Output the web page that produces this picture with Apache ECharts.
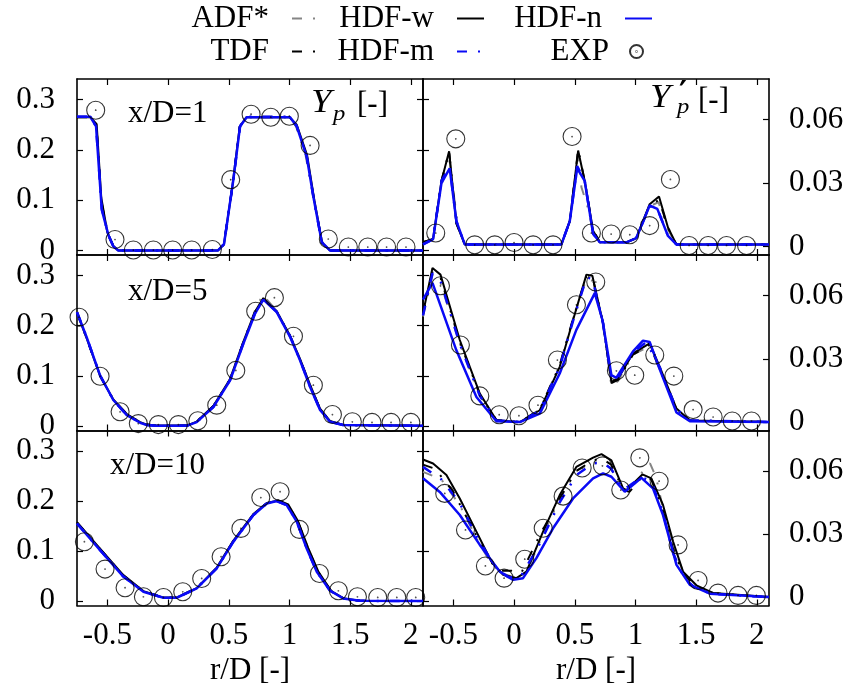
<!DOCTYPE html>
<html>
<head>
<meta charset="utf-8">
<script src="https://cdn.jsdelivr.net/npm/echarts@6/dist/echarts.min.js"></script>
<style>
  html, body { margin: 0; padding: 0; background: #fff; }
  #chart { width: 851px; height: 688px; }
</style>
</head>
<body>
<div id="chart"></div>
<script>
// ---- axis ticks ----
const xTicks = [-0.5, 0, 0.5, 1, 1.5, 2];
const yTicksMean = [0, 0.1, 0.2, 0.3];
const yTicksRms = [0, 0.03, 0.06];
const stations = ['x/D=1', 'x/D=5', 'x/D=10'];
const modelNames = ['ADF*', 'TDF', 'HDF-w', 'HDF-m', 'HDF-n'];
const expName = 'EXP';

// ---- mean Y_p, x/D = 1 ----
const yp1_adf  = [[-0.75,0.266],[-0.64,0.266],[-0.59,0.249],[-0.545,0.09],[-0.49,0.031],[-0.45,0.008],[-0.41,0.0],[0.41,0.0],[0.46,0.013],[0.535,0.135],[0.592,0.247],[0.648,0.266],[1.0,0.266],[1.055,0.246],[1.13,0.193],[1.195,0.11],[1.266,0.018],[1.335,0.0],[2.1,0.0]];
const yp1_tdf  = [[-0.75,0.265],[-0.64,0.265],[-0.59,0.25],[-0.55,0.1],[-0.5,0.034],[-0.45,0.009],[-0.41,0.0],[0.41,0.0],[0.46,0.012],[0.532,0.13],[0.59,0.246],[0.646,0.265],[1.0,0.265],[1.058,0.248],[1.14,0.19],[1.2,0.104],[1.268,0.016],[1.335,0.0],[2.1,0.0]];
const yp1_hdfw = [[-0.75,0.265],[-0.64,0.265],[-0.588,0.251],[-0.55,0.105],[-0.5,0.036],[-0.45,0.009],[-0.41,0.0],[0.41,0.0],[0.46,0.012],[0.53,0.128],[0.59,0.246],[0.645,0.265],[1.0,0.265],[1.06,0.25],[1.145,0.19],[1.205,0.1],[1.27,0.015],[1.335,0.0],[2.1,0.0]];
const yp1_hdfm = [[-0.75,0.266],[-0.64,0.266],[-0.593,0.247],[-0.546,0.083],[-0.49,0.03],[-0.45,0.008],[-0.41,0.0],[0.41,0.0],[0.461,0.013],[0.538,0.14],[0.593,0.247],[0.648,0.266],[1.005,0.266],[1.06,0.247],[1.142,0.187],[1.197,0.107],[1.266,0.017],[1.335,0.0],[2.1,0.0]];
const yp1_hdfn = [[-0.75,0.266],[-0.64,0.266],[-0.593,0.247],[-0.546,0.081],[-0.49,0.03],[-0.45,0.008],[-0.41,0.0],[0.41,0.0],[0.461,0.013],[0.538,0.141],[0.593,0.247],[0.648,0.265],[1.005,0.265],[1.06,0.247],[1.142,0.187],[1.197,0.107],[1.266,0.017],[1.335,0.0],[2.1,0.0]];
const yp1_exp  = [[-0.596,0.279],[-0.437,0.022],[-0.286,0.001],[-0.121,0.001],[0.038,0.001],[0.195,0.001],[0.365,0.002],[0.516,0.141],[0.684,0.271],[0.846,0.265],[0.999,0.267],[1.17,0.209],[1.32,0.023],[1.485,0.007],[1.645,0.007],[1.80,0.007],[1.96,0.007]];

// ---- fluctuation Y'_p, x/D = 1 ----
const rms1_adf  = [[-0.75,0.002],[-0.667,0.0035],[-0.598,0.029],[-0.535,0.043],[-0.5,0.026],[-0.46,0.009],[-0.406,0.001],[0.39,0.001],[0.459,0.012],[0.528,0.044],[0.555,0.028],[0.6,0.02],[0.651,0.007],[0.706,0.002],[0.925,0.002],[1.007,0.004],[1.117,0.019],[1.19,0.021],[1.268,0.008],[1.337,0.001],[2.1,0.001]];
const rms1_tdf  = [[-0.75,0.002],[-0.667,0.0035],[-0.598,0.031],[-0.535,0.045],[-0.475,0.011],[-0.406,0.001],[0.39,0.001],[0.459,0.012],[0.528,0.046],[0.582,0.031],[0.651,0.008],[0.706,0.002],[0.925,0.002],[1.007,0.004],[1.117,0.0195],[1.194,0.022],[1.268,0.009],[1.337,0.001],[2.1,0.001]];
const rms1_hdfw = [[-0.75,0.002],[-0.667,0.0035],[-0.598,0.031],[-0.535,0.045],[-0.475,0.011],[-0.406,0.001],[0.39,0.001],[0.459,0.012],[0.528,0.0454],[0.582,0.031],[0.651,0.0075],[0.706,0.002],[0.925,0.002],[1.007,0.004],[1.117,0.02],[1.194,0.0237],[1.268,0.009],[1.337,0.001],[2.1,0.001]];
const rms1_hdfm = [[-0.75,0.001],[-0.667,0.0035],[-0.598,0.031],[-0.53,0.038],[-0.475,0.012],[-0.406,0.001],[0.39,0.001],[0.459,0.012],[0.52,0.038],[0.582,0.031],[0.651,0.006],[0.706,0.002],[0.925,0.002],[1.007,0.004],[1.117,0.019],[1.18,0.018],[1.268,0.005],[1.337,0.001],[2.1,0.001]];
const rms1_hdfn = [[-0.75,0.001],[-0.667,0.0035],[-0.598,0.03],[-0.53,0.0369],[-0.475,0.012],[-0.406,0.001],[0.39,0.001],[0.459,0.012],[0.52,0.037],[0.582,0.031],[0.651,0.006],[0.706,0.002],[0.925,0.002],[1.007,0.004],[1.117,0.0194],[1.18,0.0178],[1.268,0.005],[1.337,0.001],[2.1,0.001]];
const rms1_exp  = [[-0.645,0.0064],[-0.48,0.0509],[-0.324,0.0008],[-0.159,0.0008],[0.0,0.0019],[0.157,0.0008],[0.321,0.0008],[0.478,0.052],[0.637,0.0064],[0.80,0.0059],[0.953,0.0056],[1.117,0.0099],[1.288,0.0317],[1.442,0.0005],[1.599,0.0005],[1.75,0.0005],[1.915,0.0005]];

// ---- mean Y_p, x/D = 5 ----
const yp5_adf  = [[-0.75,0.227],[-0.672,0.177],[-0.56,0.1],[-0.451,0.052],[-0.34,0.023],[-0.23,0.007],[-0.174,0.002],[-0.1,0.0005],[0.154,0.0005],[0.236,0.009],[0.373,0.039],[0.511,0.093],[0.62,0.167],[0.716,0.23],[0.78,0.262],[0.895,0.229],[1.005,0.179],[1.087,0.132],[1.17,0.079],[1.252,0.033],[1.335,0.009],[1.443,0.002],[2.1,0.0005]];
const yp5_tdf  = [[-0.75,0.226],[-0.672,0.176],[-0.56,0.1],[-0.451,0.053],[-0.34,0.024],[-0.23,0.008],[-0.174,0.003],[-0.1,0.001],[0.154,0.001],[0.236,0.009],[0.373,0.04],[0.511,0.093],[0.62,0.167],[0.716,0.227],[0.785,0.254],[0.895,0.228],[1.005,0.18],[1.087,0.133],[1.17,0.081],[1.252,0.034],[1.335,0.01],[1.443,0.002],[2.1,0.0005]];
const yp5_hdfw = [[-0.75,0.226],[-0.672,0.176],[-0.56,0.1],[-0.451,0.053],[-0.34,0.024],[-0.23,0.008],[-0.174,0.003],[-0.1,0.001],[0.154,0.001],[0.236,0.009],[0.373,0.04],[0.511,0.094],[0.62,0.168],[0.716,0.228],[0.785,0.255],[0.895,0.229],[1.005,0.18],[1.087,0.134],[1.17,0.082],[1.252,0.035],[1.335,0.01],[1.443,0.002],[2.1,0.0005]];
const yp5_hdfm = [[-0.75,0.227],[-0.672,0.178],[-0.56,0.101],[-0.451,0.052],[-0.34,0.022],[-0.23,0.007],[-0.174,0.002],[-0.1,0.0005],[0.154,0.0005],[0.236,0.008],[0.373,0.038],[0.511,0.092],[0.62,0.165],[0.716,0.225],[0.785,0.253],[0.895,0.228],[1.005,0.179],[1.087,0.132],[1.17,0.079],[1.252,0.032],[1.335,0.0085],[1.443,0.002],[2.1,0.0005]];
const yp5_hdfn = [[-0.75,0.227],[-0.672,0.178],[-0.56,0.101],[-0.451,0.052],[-0.34,0.022],[-0.23,0.0066],[-0.174,0.002],[-0.1,0.0005],[0.154,0.0005],[0.236,0.008],[0.373,0.038],[0.511,0.091],[0.62,0.164],[0.716,0.224],[0.785,0.252],[0.895,0.227],[1.005,0.178],[1.087,0.131],[1.17,0.078],[1.252,0.032],[1.335,0.0085],[1.443,0.002],[2.1,0.0005]];
const yp5_exp  = [[-0.733,0.217],[-0.56,0.0994],[-0.395,0.0285],[-0.245,0.005],[-0.08,0.003],[0.085,0.003],[0.245,0.0106],[0.401,0.0417],[0.558,0.111],[0.722,0.229],[0.876,0.256],[1.033,0.179],[1.197,0.0815],[1.354,0.023],[1.518,0.0086],[1.68,0.0073],[1.837,0.0073],[2.0,0.0073]];

// ---- fluctuation Y'_p, x/D = 5 ----
const rms5_adf  = [[-0.75,0.05],[-0.672,0.07],[-0.606,0.066],[-0.447,0.037],[-0.282,0.0125],[-0.145,0.001],[0.047,0.0],[0.212,0.006],[0.376,0.027],[0.486,0.049],[0.596,0.068],[0.645,0.067],[0.733,0.046],[0.802,0.017],[0.857,0.0195],[0.98,0.032],[1.117,0.036],[1.2,0.025],[1.338,0.006],[1.448,0.0008],[2.1,0.0]];
const rms5_tdf  = [[-0.75,0.051],[-0.672,0.0715],[-0.606,0.0685],[-0.447,0.038],[-0.282,0.013],[-0.145,0.001],[0.047,0.0],[0.212,0.006],[0.376,0.027],[0.486,0.049],[0.596,0.069],[0.645,0.069],[0.733,0.047],[0.802,0.0185],[0.857,0.02],[0.98,0.032],[1.117,0.0365],[1.2,0.025],[1.338,0.006],[1.448,0.0008],[2.1,0.0]];
const rms5_hdfw = [[-0.75,0.0516],[-0.672,0.073],[-0.606,0.0699],[-0.447,0.0389],[-0.282,0.0135],[-0.145,0.0008],[0.047,0.0],[0.212,0.0056],[0.376,0.0262],[0.486,0.0484],[0.596,0.0699],[0.645,0.0694],[0.733,0.0469],[0.802,0.019],[0.857,0.0206],[0.98,0.0326],[1.117,0.0373],[1.2,0.0262],[1.338,0.0064],[1.448,0.0008],[2.1,0.0]];
const rms5_hdfm = [[-0.75,0.0505],[-0.672,0.0705],[-0.606,0.067],[-0.447,0.037],[-0.282,0.0125],[-0.145,0.0008],[0.047,0.0],[0.212,0.0055],[0.376,0.026],[0.486,0.048],[0.596,0.0685],[0.645,0.068],[0.733,0.047],[0.802,0.02],[0.857,0.021],[0.98,0.033],[1.09,0.038],[1.2,0.026],[1.338,0.006],[1.448,0.0008],[2.1,0.0]];
const rms5_hdfn = [[-0.75,0.058],[-0.672,0.066],[-0.475,0.034],[-0.31,0.0119],[-0.145,0.0004],[0.047,0.0],[0.212,0.004],[0.376,0.023],[0.513,0.0437],[0.665,0.0611],[0.728,0.0484],[0.802,0.0222],[0.843,0.021],[0.98,0.0335],[1.062,0.0386],[1.117,0.038],[1.2,0.025],[1.338,0.0045],[1.448,0.0004],[2.1,0.0]];
const rms5_exp  = [[-0.606,0.0646],[-0.442,0.0365],[-0.282,0.0124],[-0.122,0.0035],[0.04,0.003],[0.197,0.008],[0.357,0.0294],[0.514,0.0556],[0.673,0.0664],[0.843,0.0243],[0.994,0.0222],[1.159,0.0318],[1.316,0.0218],[1.475,0.0059],[1.64,0.0024],[1.797,0.0005],[1.956,0.0005]];

// ---- mean Y_p, x/D = 10 ----
const yp10_adf  = [[-0.75,0.156],[-0.56,0.103],[-0.368,0.05],[-0.203,0.019],[-0.038,0.007],[0.071,0.007],[0.236,0.026],[0.401,0.066],[0.538,0.12],[0.703,0.173],[0.813,0.196],[0.9,0.201],[0.98,0.193],[1.065,0.16],[1.15,0.105],[1.23,0.058],[1.34,0.02],[1.45,0.005],[1.58,0.0005],[2.1,0.0]];
const yp10_tdf  = [[-0.75,0.157],[-0.56,0.104],[-0.368,0.051],[-0.203,0.02],[-0.038,0.007],[0.071,0.007],[0.236,0.026],[0.401,0.066],[0.538,0.12],[0.703,0.173],[0.813,0.196],[0.905,0.201],[0.985,0.193],[1.068,0.16],[1.152,0.106],[1.235,0.058],[1.343,0.02],[1.45,0.005],[1.58,0.0005],[2.1,0.0]];
const yp10_hdfw = [[-0.75,0.158],[-0.56,0.105],[-0.368,0.052],[-0.203,0.02],[-0.038,0.007],[0.071,0.007],[0.236,0.026],[0.401,0.067],[0.538,0.121],[0.703,0.174],[0.813,0.196],[0.91,0.201],[0.99,0.193],[1.07,0.16],[1.155,0.106],[1.24,0.058],[1.345,0.02],[1.45,0.005],[1.58,0.0005],[2.1,0.0]];
const yp10_hdfm = [[-0.75,0.155],[-0.56,0.102],[-0.368,0.049],[-0.203,0.019],[-0.038,0.0067],[0.071,0.0067],[0.236,0.0255],[0.401,0.0655],[0.538,0.119],[0.703,0.172],[0.813,0.195],[0.895,0.2],[0.977,0.192],[1.06,0.159],[1.142,0.105],[1.225,0.0587],[1.335,0.0207],[1.443,0.0053],[1.58,0.0005],[2.1,0.0]];
const yp10_hdfn = [[-0.75,0.155],[-0.56,0.102],[-0.368,0.049],[-0.203,0.0187],[-0.038,0.0067],[0.071,0.0067],[0.236,0.0253],[0.401,0.0653],[0.538,0.1187],[0.703,0.172],[0.813,0.195],[0.895,0.2],[0.977,0.192],[1.06,0.159],[1.142,0.105],[1.225,0.0587],[1.335,0.0207],[1.443,0.0053],[1.58,0.0005],[2.1,0.0]];
const yp10_exp  = [[-0.689,0.1187],[-0.519,0.064],[-0.354,0.0267],[-0.203,0.0087],[-0.038,0.0073],[0.121,0.0187],[0.277,0.0453],[0.437,0.0887],[0.6,0.1453],[0.764,0.207],[0.923,0.2187],[1.082,0.1433],[1.247,0.0553],[1.403,0.0207],[1.56,0.0087],[1.727,0.0073],[1.884,0.0073],[2.04,0.0073]];

// ---- fluctuation Y'_p, x/D = 10 ----
const rms10_adf  = [[-0.75,0.0595],[-0.6,0.056],[-0.45,0.044],[-0.3,0.027],[-0.18,0.015],[-0.08,0.011],[0.02,0.009],[0.1,0.0115],[0.24,0.03],[0.38,0.047],[0.513,0.06],[0.65,0.064],[0.73,0.064],[0.8,0.061],[0.9,0.051],[1.01,0.0546],[1.06,0.06],[1.12,0.0636],[1.17,0.057],[1.227,0.042],[1.31,0.024],[1.4,0.011],[1.5,0.005],[1.64,0.0018],[2.1,0.0]];
const rms10_tdf  = [[-0.75,0.063],[-0.65,0.061],[-0.5,0.05],[-0.3,0.028],[-0.18,0.016],[-0.1,0.0125],[-0.02,0.0125],[0.06,0.0115],[0.2,0.028],[0.376,0.047],[0.513,0.06],[0.65,0.065],[0.72,0.066],[0.8,0.063],[0.9,0.051],[0.95,0.05],[1.06,0.0575],[1.13,0.056],[1.227,0.041],[1.31,0.023],[1.392,0.011],[1.5,0.005],[1.64,0.0018],[2.1,0.0]];
const rms10_hdfw = [[-0.75,0.0654],[-0.667,0.0635],[-0.557,0.058],[-0.447,0.0469],[-0.31,0.0311],[-0.187,0.0169],[-0.09,0.0106],[0.019,0.009],[0.102,0.0121],[0.239,0.0311],[0.376,0.0485],[0.513,0.0619],[0.651,0.0663],[0.72,0.068],[0.802,0.065],[0.898,0.0517],[0.926,0.0508],[1.057,0.0583],[1.131,0.0564],[1.227,0.0438],[1.31,0.0264],[1.392,0.0121],[1.502,0.0056],[1.639,0.002],[2.1,0.0]];
const rms10_hdfm = [[-0.75,0.0619],[-0.6,0.056],[-0.45,0.045],[-0.3,0.028],[-0.15,0.014],[-0.05,0.0095],[0.05,0.0092],[0.2,0.024],[0.376,0.045],[0.513,0.058],[0.65,0.0635],[0.73,0.064],[0.8,0.061],[0.9,0.051],[1.05,0.057],[1.13,0.055],[1.227,0.04],[1.31,0.021],[1.4,0.009],[1.5,0.004],[1.64,0.0015],[2.1,0.0]];
const rms10_hdfn = [[-0.75,0.0565],[-0.612,0.05],[-0.447,0.039],[-0.282,0.0248],[-0.117,0.0121],[-0.008,0.0082],[0.074,0.009],[0.184,0.0185],[0.321,0.0327],[0.486,0.0469],[0.651,0.0564],[0.733,0.0588],[0.802,0.0572],[0.912,0.0501],[1.049,0.0567],[1.144,0.0517],[1.227,0.039],[1.338,0.0153],[1.448,0.0058],[1.613,0.0016],[2.1,0.0]];
const rms10_exp  = [[-0.571,0.0493],[-0.4,0.0319],[-0.236,0.0148],[-0.082,0.009],[0.088,0.018],[0.24,0.0327],[0.404,0.048],[0.561,0.0614],[0.728,0.0624],[0.879,0.0509],[1.036,0.0662],[1.195,0.0551],[1.351,0.0248],[1.516,0.0079],[1.68,0.0019],[1.845,0.0008],[1.996,0.0008]];

// ---- panel table: row = station, col 0 = mean, col 1 = fluctuation ----
const panels = [
  { row: 0, col: 0, models: [yp1_adf, yp1_tdf, yp1_hdfw, yp1_hdfm, yp1_hdfn], exp: yp1_exp },
  { row: 0, col: 1, models: [rms1_adf, rms1_tdf, rms1_hdfw, rms1_hdfm, rms1_hdfn], exp: rms1_exp },
  { row: 1, col: 0, models: [yp5_adf, yp5_tdf, yp5_hdfw, yp5_hdfm, yp5_hdfn], exp: yp5_exp },
  { row: 1, col: 1, models: [rms5_adf, rms5_tdf, rms5_hdfw, rms5_hdfm, rms5_hdfn], exp: rms5_exp },
  { row: 2, col: 0, models: [yp10_adf, yp10_tdf, yp10_hdfw, yp10_hdfm, yp10_hdfn], exp: yp10_exp },
  { row: 2, col: 1, models: [rms10_adf, rms10_tdf, rms10_hdfw, rms10_hdfm, rms10_hdfn], exp: rms10_exp }
];

// ---- layout and styling ----
const FONT = '"Liberation Serif", "DejaVu Serif", serif';
const FS = 31;
const X_RANGE = [-0.75, 2.1];
const MEAN_RANGE = [-0.0088, 0.341];
const RMS_RANGE = [-0.004, 0.0792];
const rowTop = [79, 255, 430.5];
const rowH = [176, 175.5, 175];
const colLeft = [77, 423];
const colW = 346;
const BLUE = '#0a0af5';
const DASH = [10, 11, 2, 11];
const lineLooks = [
  { color: '#858585', type: DASH, width: 2 },
  { color: '#000000', type: DASH, width: 2 },
  { color: '#000000', type: 'solid', width: 2 },
  { color: BLUE, type: DASH, width: 2.5 },
  { color: BLUE, type: 'solid', width: 2.5 }
];
const ringPath = 'path://M0,-10A10,10,0,1,1,0,10A10,10,0,1,1,0,-10ZM0,-0.35A0.35,0.35,0,1,1,0,0.35A0.35,0.35,0,1,1,0,-0.35Z';

const frameLine = { show: true, onZero: false, lineStyle: { color: '#000', width: 1.6 } };
const tickStyle = { color: '#000', width: 1.2 };
const labelText = { fontFamily: FONT, fontSize: FS, color: '#000' };

const grids = [], xAxes = [], yAxes = [], series = [];

panels.forEach((p, i) => {
  grids.push({ left: colLeft[p.col], top: rowTop[p.row], width: colW, height: rowH[p.row] });
  ['bottom', 'top'].forEach(pos => {
    const labelled = pos === 'bottom' && p.row === 2;
    xAxes.push({
      gridIndex: i, type: 'value', position: pos, min: X_RANGE[0], max: X_RANGE[1],
      axisLine: frameLine,
      axisTick: { show: true, inside: true, length: 6, customValues: xTicks, lineStyle: tickStyle },
      axisLabel: Object.assign({ show: labelled, customValues: xTicks, margin: 15 }, labelText),
      splitLine: { show: false },
      name: labelled ? 'r/D [-]' : '', nameLocation: 'middle', nameGap: 50,
      nameTextStyle: labelText
    });
  });
  // left axis: mean scale (labelled on the left column, ticks only on the right column)
  yAxes.push({
    gridIndex: i, type: 'value', position: 'left', min: MEAN_RANGE[0], max: MEAN_RANGE[1],
    axisLine: frameLine,
    axisTick: { show: true, inside: true, length: 6, customValues: yTicksMean, lineStyle: tickStyle },
    axisLabel: Object.assign({ show: p.col === 0, customValues: yTicksMean, margin: 22 }, labelText),
    splitLine: { show: false }
  });
  // right axis: mirrored mean ticks on the left column, fluctuation scale on the right column
  const rms = p.col === 1;
  yAxes.push({
    gridIndex: i, type: 'value', position: 'right',
    min: rms ? RMS_RANGE[0] : MEAN_RANGE[0], max: rms ? RMS_RANGE[1] : MEAN_RANGE[1],
    axisLine: frameLine,
    axisTick: { show: true, inside: true, length: 6, customValues: rms ? yTicksRms : yTicksMean, lineStyle: tickStyle },
    axisLabel: Object.assign({ show: rms, customValues: yTicksRms, margin: 20 }, labelText),
    splitLine: { show: false }
  });
  const yIdx = rms ? 2 * i + 1 : 2 * i;
  p.models.forEach((d, k) => {
    series.push({
      name: modelNames[k], type: 'line', xAxisIndex: 2 * i, yAxisIndex: yIdx,
      data: d, symbol: 'none', showSymbol: false, smooth: false, clip: true,
      lineStyle: lineLooks[k], itemStyle: { color: lineLooks[k].color },
      z: 2 + k, animation: false
    });
  });
  series.push({
    name: expName, type: 'scatter', xAxisIndex: 2 * i, yAxisIndex: yIdx,
    data: p.exp, symbol: ringPath, symbolSize: 18, symbolKeepAspect: true,
    itemStyle: { color: 'rgba(0,0,0,0)', borderColor: '#000', borderWidth: 1.1 },
    z: 10, animation: false
  });
});

// legend: text on the left, line sample on the right, two rows of three
const legendBase = {
  orient: 'horizontal', align: 'right', padding: 0, itemGap: 0,
  itemWidth: 27, itemHeight: 14, selectedMode: false,
  itemStyle: { opacity: 0 },
  textStyle: { fontFamily: FONT, fontSize: FS, color: '#000', padding: [0, 18, 0, 0] }
};
const legendSlots = [
  { name: 'ADF*', right: 531, top: 3 },
  { name: 'TDF', right: 531, top: 36 },
  { name: 'HDF-w', right: 366, top: 3 },
  { name: 'HDF-m', right: 366, top: 36 },
  { name: 'HDF-n', right: 198, top: 3 }
];
const legends = legendSlots.map(s => Object.assign({}, legendBase, { data: [s.name], right: s.right, top: s.top }));
legends.push({
  orient: 'horizontal', align: 'right', padding: 0, itemGap: 0,
  itemWidth: 27, itemHeight: 13, selectedMode: false,
  data: [expName], right: 207, top: 36,
  textStyle: { fontFamily: FONT, fontSize: FS, color: '#000', padding: [0, 9, 0, 0] }
});

const txt = (text, x, y, size) => ({
  type: 'text', x: x, y: y, silent: true,
  style: { text: text, font: size + 'px ' + FONT, fill: '#000', verticalAlign: 'middle', align: 'left' }
});
const italic = (text, x, y, size, sx) => ({
  type: 'text', x: x, y: y, scaleX: sx || 1, silent: true,
  style: { text: text, font: 'italic ' + size + 'px ' + FONT, fill: '#000', verticalAlign: 'middle', align: 'left' }
});

const graphic = [
  txt(stations[0], 128, 114, FS),
  txt(stations[1], 128, 292, FS),
  txt(stations[2], 110, 466, FS),
  // Y_p [-]
  italic('Y', 311, 103.5, 33, 1.12),
  italic('p', 333, 114, 22, 1.12),
  txt('[-]', 357, 105, FS),
  // Y'_p [-]
  italic('Y', 650, 98.5, 33, 1.12),
  {
    type: 'text', x: 679, y: 94, silent: true,
    style: { text: '\u2032', font: 'bold 30px "DejaVu Serif", serif', fill: '#000', verticalAlign: 'middle', align: 'left' }
  },
  italic('p', 677, 107, 22, 1.12),
  txt('[-]', 698, 101, FS)
];

const chart = echarts.init(document.getElementById('chart'), null, { renderer: 'canvas' });
chart.setOption({
  backgroundColor: '#fff',
  animation: false,
  legend: legends,
  grid: grids,
  xAxis: xAxes,
  yAxis: yAxes,
  series: series,
  graphic: graphic
});
</script>
</body>
</html>
